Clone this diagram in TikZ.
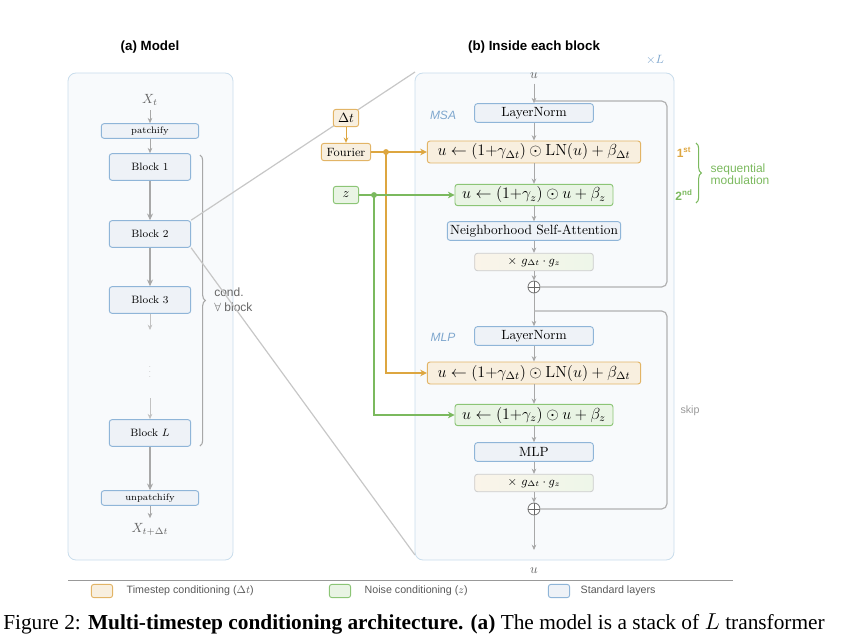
\documentclass[tikz,border=0pt]{standalone}
\usepackage{fontspec}
\usepackage{amsmath}
\newfontfamily\hv{Liberation Sans}
\newfontfamily\tms{Liberation Serif}
\usetikzlibrary{decorations.pathreplacing,calc,arrows.meta}
\definecolor{ofill}{HTML}{F8EFDF}\definecolor{odraw}{HTML}{E2B466}\definecolor{oline}{HTML}{DDA640}
\definecolor{gfill}{HTML}{E9F4E4}\definecolor{gdraw}{HTML}{8CC576}\definecolor{gline}{HTML}{7BB95E}
\definecolor{bfill}{HTML}{EEF2F7}\definecolor{bdraw}{HTML}{8FB5D8}
\definecolor{pfill}{HTML}{F8FAFC}\definecolor{pdraw}{HTML}{C9DDEC}
\definecolor{arr}{HTML}{A8A8A8}\definecolor{lbl}{HTML}{7FA7CE}
\tikzset{
 panel/.style={draw=pdraw,fill=pfill,rounded corners=6pt,line width=0.6pt},
 std/.style={draw=bdraw,fill=bfill,rounded corners=2pt,line width=0.7pt,inner sep=1pt},
 tcond/.style={draw=odraw,fill=ofill,rounded corners=2pt,line width=0.7pt,inner sep=1pt},
 ncond/.style={draw=gdraw,fill=gfill,rounded corners=2pt,line width=0.7pt,inner sep=1pt},
 gate/.style={draw=black!20,left color=ofill!70,right color=gfill!80,rounded corners=2pt,line width=0.6pt,inner sep=1pt},
 flow/.style={draw=arr,line width=0.6pt,-{Stealth[length=4pt,width=3.5pt]}},
 thick flow/.style={draw=arr,line width=1pt,-{Stealth[length=5pt,width=4.5pt]}},
 skipline/.style={draw=arr!90,line width=0.9pt,rounded corners=4pt},
 oflow/.style={draw=oline,line width=1pt},
 gflow/.style={draw=gline,line width=1pt},
 plusn/.style={circle,draw=black!55,fill=white,minimum size=9pt,inner sep=0pt,line width=0.6pt},
}
\begin{document}
\begin{tikzpicture}[x=0.75pt,y=-0.75pt]
\useasboundingbox (0,0) rectangle (847,635);
% panels
\draw[panel] (68,73) rectangle (233,560);
\draw[panel] (415,73) rectangle (674,560);
\node[font=\hv\bfseries] (ta) at (150,47) {(a) Model};
\node[font=\hv\bfseries] (tb) at (534,47) {(b) Inside each block};
\node[text=lbl,font=\small] (xl) at (655,60) {$\times L$};
% left column
\node[text=black!60] (xt) at (150,100) {$X_t$};
\node[std,minimum width=73pt,minimum height=11pt,font=\scriptsize] (patch) at (150,131) {patchify};
\node[std,minimum width=61pt,minimum height=20pt,font=\footnotesize] (b1) at (150,167) {Block 1};
\node[std,minimum width=61pt,minimum height=20pt,font=\footnotesize] (b2) at (150,234) {Block 2};
\node[std,minimum width=61pt,minimum height=20pt,font=\footnotesize] (b3) at (150,300) {Block 3};
\node[std,minimum width=61pt,minimum height=20pt,font=\footnotesize] (bl) at (150,433) {Block $L$};
\node[std,minimum width=73pt,minimum height=11pt,font=\scriptsize] (unpatch) at (150,498) {unpatchify};
\node[text=black!60] (xo) at (150,529) {$X_{t+\Delta t}$};
\coordinate (b3e) at (150,330);
\coordinate (bls) at (150,398);
\node[text=black!45,font=\tiny,align=center,inner sep=0pt] (dots) at (150,372) {.\\[-2pt].\\[-2pt].};
\draw[flow] (xt) -- (patch);
\draw[flow] (patch) -- (b1);
\draw[thick flow] (b1) -- (b2);
\draw[thick flow] (b2) -- (b3);
\draw[flow,draw=arr!70] (b3) -- (b3e);
\draw[flow,draw=arr!70] (bls) -- (bl);
\draw[thick flow] (bl) -- (unpatch);
\draw[flow] (unpatch) -- (xo);
\draw[decorate,decoration={brace,amplitude=4pt},draw=arr,line width=0.8pt] (200,155) -- (200,446);
\node[font=\hv\small,text=black!60,align=left,anchor=west,inner sep=0pt] (cond) at (214,300) {cond.\\$\forall$ block};
% zoom lines
\coordinate (pa) at (415,72);
\coordinate (pb) at (415,555);
\draw[black!22,line width=0.9pt] (b2.north east) -- (pa);
\draw[black!22,line width=0.9pt] (b2.south east) -- (pb);
% right column
\node[text=black!60] (uin) at (534,76) {$u$};
\node[std,minimum width=89pt,minimum height=14pt] (ln1) at (534,113) {LayerNorm};
\node[font=\hv\itshape\small,text=lbl] (msa) at (443,115) {MSA};
\node[tcond,minimum width=160pt,minimum height=16.5pt,font=\large] (o1) at (534,152) {$u \leftarrow (1{+}\gamma_{\Delta t}) \odot \mathrm{LN}(u) + \beta_{\Delta t}$};
\node[ncond,minimum width=118.5pt,minimum height=16pt,font=\large] (g1) at (534,195) {$u \leftarrow (1{+}\gamma_{z}) \odot u + \beta_{z}$};
\node[std,minimum width=130pt,minimum height=14pt] (nsa) at (534,231) {Neighborhood Self-Attention};
\node[gate,minimum width=89pt,minimum height=13pt,font=\small] (gt1) at (534,262) {$\times\ g_{\Delta t}\cdot g_z$};
\node[plusn] (p1) at (534,287) {};
\draw[black!60,line width=0.6pt] (p1.west)--(p1.east) (p1.north)--(p1.south);
\node[std,minimum width=89pt,minimum height=14pt] (ln2) at (534,336) {LayerNorm};
\node[font=\hv\itshape\small,text=lbl] (mlpl) at (443,337) {MLP};
\node[tcond,minimum width=160pt,minimum height=16.5pt,font=\large] (o2) at (534,373) {$u \leftarrow (1{+}\gamma_{\Delta t}) \odot \mathrm{LN}(u) + \beta_{\Delta t}$};
\node[ncond,minimum width=118.5pt,minimum height=16pt,font=\large] (g2) at (534,415) {$u \leftarrow (1{+}\gamma_{z}) \odot u + \beta_{z}$};
\node[std,minimum width=89pt,minimum height=14pt] (mlp) at (534,452) {MLP};
\node[gate,minimum width=89pt,minimum height=13pt,font=\small] (gt2) at (534,483) {$\times\ g_{\Delta t}\cdot g_z$};
\node[plusn] (p2) at (534,509) {};
\draw[black!60,line width=0.6pt] (p2.west)--(p2.east) (p2.north)--(p2.south);
\coordinate (out) at (534,550);
\node[text=black!60] (uout) at (534,571) {$u$};
\draw[flow] (uin) -- (ln1);
\draw[flow] (ln1) -- (o1);
\draw[flow] (o1) -- (g1);
\draw[flow] (g1) -- (nsa);
\draw[flow] (nsa) -- (gt1);
\draw[flow] (gt1) -- (p1);
\draw[flow] (p1) -- (ln2);
\draw[flow] (ln2) -- (o2);
\draw[flow] (o2) -- (g2);
\draw[flow] (g2) -- (mlp);
\draw[flow] (mlp) -- (gt2);
\draw[flow] (gt2) -- (p2);
\draw[flow] (p2) -- (out);
\coordinate (s1) at (534,101);
\coordinate (s2) at (534,311);
\draw[skipline] (s1) -- (667,101) -- (667,287) -- (p1.east);
\draw[skipline] (s2) -- (667,311) -- (667,509) -- (p2.east);
\node[font=\hv\footnotesize,text=black!40] (skip) at (690,411) {skip};
% inputs
\node[tcond,minimum width=19pt,minimum height=13pt] (dt) at (346,118) {$\Delta t$};
\node[tcond,minimum width=37pt,minimum height=13pt,font=\small] (four) at (346,152) {Fourier};
\node[ncond,minimum width=19pt,minimum height=13pt] (z) at (346,195) {$z$};
\draw[oflow,line width=0.7pt,-{Stealth[length=4pt,width=3.5pt]}] (dt) -- (four);
\coordinate (od) at (386,152);
\coordinate (gd) at (374,195);
\draw[oflow,-{Stealth[length=5pt,width=5pt]}] (four) -- (o1);
\draw[oflow,-{Stealth[length=5pt,width=5pt]}] (od) |- (o2.west);
\draw[gflow,-{Stealth[length=5pt,width=5pt]}] (z) -- (g1);
\draw[gflow,-{Stealth[length=5pt,width=5pt]}] (gd) |- (g2.west);
\fill[oline] (od) circle (2.2pt);
\fill[gline] (gd) circle (2.2pt);
% sequential
\node[font=\hv\bfseries\small,text=oline] (first) at (684,152) {1$^{\text{st}}$};
\node[font=\hv\bfseries\small,text=gline] (second) at (684,195) {2$^{\text{nd}}$};
\draw[decorate,decoration={brace,amplitude=4pt},draw=gline,line width=0.8pt] (696,143) -- (696,203);
\node[font=\hv\small,text=gline,align=left,anchor=west] (seq) at (706,174) {sequential\\[-2pt]modulation};
% legend
\draw[black!40,line width=0.6pt] (68,580) -- (733,580);
\node[tcond,minimum width=16pt,minimum height=10pt] (lo) at (102,591) {};
\node[font=\hv\footnotesize,text=black!65,anchor=west] (lot) at (122,591) {Timestep conditioning ($\Delta t$)};
\node[ncond,minimum width=16pt,minimum height=10pt] (lg) at (340,591) {};
\node[font=\hv\footnotesize,text=black!65,anchor=west] (lgt) at (360,591) {Noise conditioning ($z$)};
\node[std,minimum width=16pt,minimum height=10pt] (lb) at (559,591) {};
\node[font=\hv\footnotesize,text=black!65,anchor=west] (lbt) at (576,591) {Standard layers};
% caption
\node[font=\tms\fontsize{16}{18}\selectfont,anchor=west,inner sep=0pt] (cap) at (3,624) {Figure 2: \textbf{Multi-timestep conditioning architecture. (a)} The model is a stack of $L$ transformer};
\end{tikzpicture}
\end{document}
